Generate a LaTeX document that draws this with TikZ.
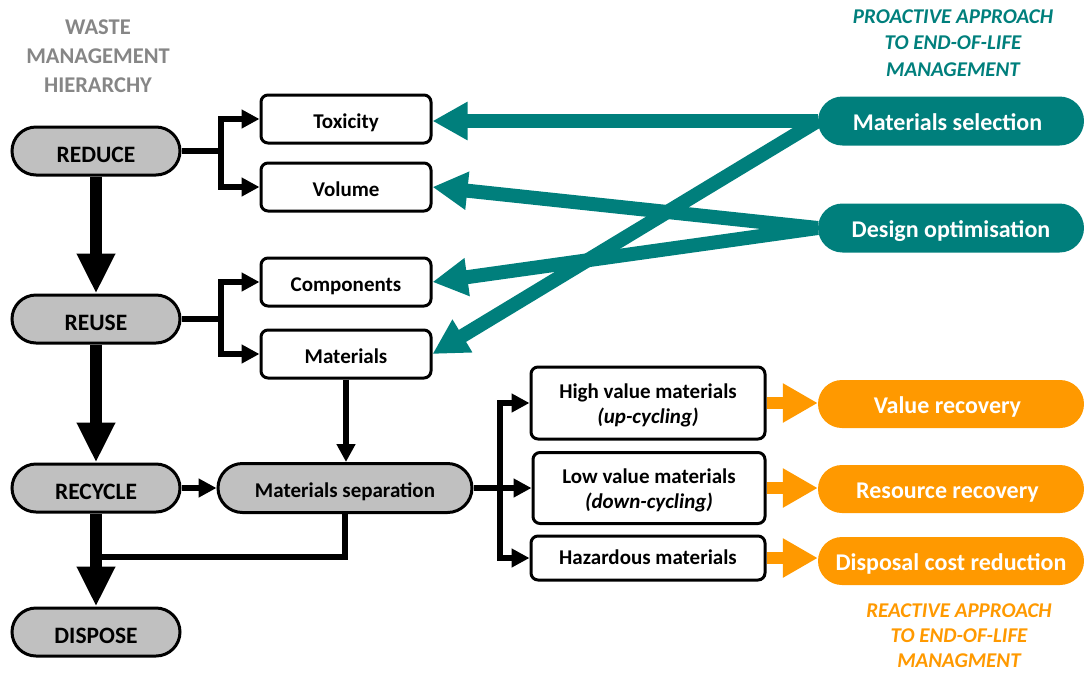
\documentclass[tikz,border=0pt]{standalone}
\usepackage{fontspec}
\setmainfont{Carlito}
\usetikzlibrary{arrows.meta,shapes.misc}

\definecolor{pillgray}{HTML}{C0C0C0}
\definecolor{titlegray}{HTML}{868686}
\definecolor{eolteal}{HTML}{007F7C}
\definecolor{eolorange}{HTML}{FF9900}

\pgfdeclarelayer{links}
\pgfsetlayers{links,main}

\begin{document}
\begin{tikzpicture}[x=1pt,y=-1pt,
  hier/.style={rounded rectangle, draw=black, line width=3pt, fill=pillgray,
    minimum width=168pt, minimum height=48pt, inner sep=0pt,
    text height=22pt, text depth=0pt,
    font=\fontsize{23.5}{28}\selectfont\bfseries},
  optbox/.style={rectangle, rounded corners=7pt, draw=black, line width=3pt,
    fill=white, minimum width=170pt, minimum height=48pt, inner sep=0pt,
    text height=18pt, text depth=0pt,
    align=center, font=\fontsize{21}{25}\selectfont\bfseries},
  twoline/.style={text height=40pt, text depth=0pt},
  goal/.style={rounded rectangle, minimum width=266pt, minimum height=49pt,
    inner sep=0pt, text=white, text height=18pt, text depth=0pt,
    font=\fontsize{24}{28}\selectfont\bfseries},
  nudge/.style={execute at end node={\kern7pt}},
  flow/.style={line width=5.5pt, -{Triangle[length=18pt,width=18pt]}},
  trunk/.style={line width=12pt, -{Triangle[length=40pt,width=36pt]}},
  pro/.style={draw=eolteal, line width=14pt, -{Triangle[length=35pt,width=36pt]}},
  re/.style={draw=eolorange, line width=12pt, -{Triangle[length=35pt,width=37pt]}},
  heading/.style={align=center, inner sep=0pt}
]
\useasboundingbox (0,0) rectangle (1084,673);

% headings
\node[heading, text=titlegray, font=\fontsize{22.5}{29}\selectfont\bfseries]
  (title) at (98,56) {WASTE\\MANAGEMENT\\HIERARCHY};
\node[heading, text=eolteal, font=\fontsize{21}{26.5}\selectfont\bfseries\itshape]
  (proactive) at (953,43) {PROACTIVE APPROACH\\TO END-OF-LIFE\\MANAGEMENT};
\node[heading, text=eolorange, font=\fontsize{21}{25}\selectfont\bfseries\itshape]
  (reactive) at (959,636) {REACTIVE APPROACH\\TO END-OF-LIFE\\MANAGMENT};

% waste management hierarchy
\node[hier] (reduce)  at (96,151) {REDUCE};
\node[hier] (reuse)   at (96,319) {REUSE};
\node[hier] (recycle) at (96,488) {RECYCLE};
\node[hier] (dispose) at (96,632) {DISPOSE};

% reduce / reuse options
\node[optbox] (tox)  at (346,119) {Toxicity};
\node[optbox] (vol)  at (346,187) {Volume};
\node[optbox] (comp) at (346,282) {Components};
\node[optbox] (mat)  at (346,354) {Materials};

% separation and material streams
\node[hier, minimum width=254pt, minimum height=49pt, text height=18pt,
  font=\fontsize{21}{25}\selectfont\bfseries] (sep) at (345,488) {Materials separation};
\node[optbox, twoline, minimum width=234pt, minimum height=72pt] (high) at (648,403)
  {High value materials\\\textit{(up-cycling)}};
\node[optbox, twoline, minimum width=232pt, minimum height=71pt] (low) at (649,488)
  {Low value materials\\\textit{(down-cycling)}};
\node[optbox, text height=12pt, minimum width=234pt, minimum height=44pt] (haz) at (648,558)
  {Hazardous materials};

% proactive measures
\node[goal, nudge, fill=eolteal] (msel) at (951,121) {Materials selection};
\node[goal, fill=eolteal] (dopt) at (951,228) {Design optimisation};

% reactive outcomes
\node[goal, nudge, fill=eolorange, minimum height=48pt] (vrec) at (951,404) {Value recovery};
\node[goal, nudge, fill=eolorange, minimum height=48pt] (rrec) at (951,489) {Resource recovery};
\node[goal, fill=eolorange, minimum height=48pt] (dcr)  at (951,561) {Disposal cost reduction};

% junction points of the branching connectors
\coordinate (j1) at (221,151);
\coordinate (j2) at (221,319);
\coordinate (j3) at (96,557);
\coordinate (j4) at (500,488);

\begin{pgfonlayer}{links}
  % hierarchy trunk
  \draw[trunk] (reduce.south) -- (reuse.north);
  \draw[trunk] (reuse.south) -- (recycle.north);
  \draw[trunk] (recycle.south) -- (dispose.north);

  % branches
  \draw[flow] (reduce.east) -- (j1) |- (tox.west);
  \draw[flow] (j1) |- (vol.west);
  \draw[flow] (reuse.east) -- (j2) |- (comp.west);
  \draw[flow] (j2) |- (mat.west);
  \draw[flow] (mat.south) -- (mat.south |- sep.north);
  \draw[flow] (recycle.east) -- (sep.west);
  \draw[line width=5.5pt] (sep.south) |- (j3);
  \draw[flow] (sep.east) -- (j4) |- (high.west);
  \draw[flow] (j4) -- (low.west);
  \draw[flow] (j4) |- (haz.west);

  % proactive arrows
  \draw[pro] (msel.west) -- (msel.west -| tox.east);
  \draw[pro] (msel.west) -- (mat.east);
  \draw[pro] (dopt.west) -- (vol.east);
  \draw[pro] (dopt.west) -- (comp.east);

  % reactive arrows
  \draw[re] (high.east) -- (high.east -| vrec.west);
  \draw[re] (low.east) -- (low.east -| rrec.west);
  \draw[re] (haz.east) -- (haz.east -| dcr.west);
\end{pgfonlayer}
\end{tikzpicture}
\end{document}
